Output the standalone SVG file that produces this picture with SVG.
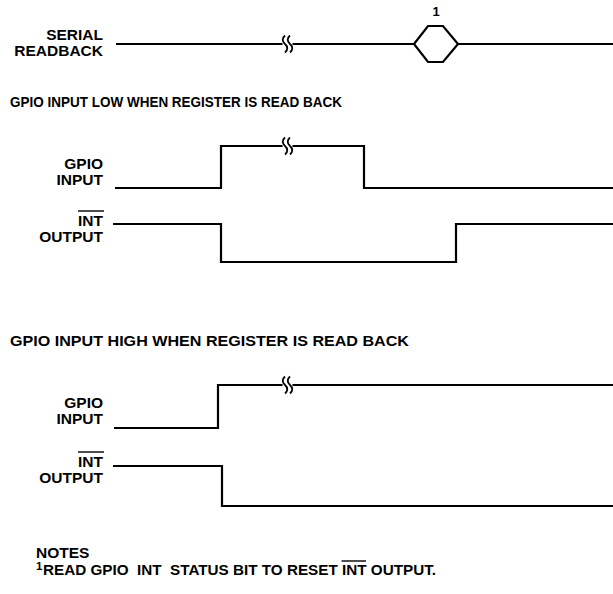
<svg xmlns="http://www.w3.org/2000/svg" width="613" height="594" viewBox="0 0 613 594">
<style>
.t{font-family:"Liberation Sans",Arial,sans-serif;font-weight:bold;font-size:15.5px;fill:#000}
.lbl{text-anchor:end}
.w{fill:none;stroke:#000;stroke-width:2.2;stroke-linejoin:miter;stroke-linecap:butt}
.brk{fill:none;stroke:#000;stroke-width:1.8}
.ov{stroke:#000;stroke-width:1.4}
</style>
<defs>
<g id="brk">
<path class="brk" d="M-2.5,-8.5 c-3,2.5 -3,6 0,8.5 c3,2.5 3,6 0,8.5"/>
<path class="brk" d="M2.5,-8.5 c-3,2.5 -3,6 0,8.5 c3,2.5 3,6 0,8.5"/>
</g>
</defs>
<rect width="613" height="594" fill="#fff"/>

<g id="serial-label">
<text class="t lbl" x="103" y="40">SERIAL</text>
<text class="t lbl" x="103" y="56">READBACK</text>
</g>
<g id="heading1"><text class="t" x="10" y="107" textLength="332" lengthAdjust="spacingAndGlyphs">GPIO INPUT LOW WHEN REGISTER IS READ BACK</text></g>
<g id="gpio1-label">
<text class="t lbl" x="103" y="169">GPIO</text>
<text class="t lbl" x="103" y="185">INPUT</text>
</g>
<g id="int1-label">
<text class="t lbl" x="103" y="226">INT</text>
<line class="ov" x1="78" y1="211" x2="104" y2="211"/>
<text class="t lbl" x="103" y="242">OUTPUT</text>
</g>
<g id="heading2"><text class="t" x="10" y="346" textLength="399" lengthAdjust="spacingAndGlyphs">GPIO INPUT HIGH WHEN REGISTER IS READ BACK</text></g>
<g id="gpio2-label">
<text class="t lbl" x="103" y="408">GPIO</text>
<text class="t lbl" x="103" y="424">INPUT</text>
</g>
<g id="int2-label">
<text class="t lbl" x="103" y="467">INT</text>
<line class="ov" x1="78" y1="452" x2="104" y2="452"/>
<text class="t lbl" x="103" y="483">OUTPUT</text>
</g>
<g id="marker1">
<polygon class="w" fill="#fff" points="414,44 428,26 443,26 458,44 443,62 428,62"/>
<text class="t" x="436" y="16" text-anchor="middle" style="font-size:13px">1</text>
</g>
<g id="notes">
<text class="t" x="36" y="558">NOTES</text>
<text class="t" x="36" y="570" style="font-size:11.5px">1</text>
<text class="t" x="43" y="575" xml:space="preserve" textLength="393" lengthAdjust="spacingAndGlyphs">READ GPIO  INT  STATUS BIT TO RESET INT OUTPUT.</text>
<line class="ov" x1="341.5" y1="561" x2="366" y2="561"/>
</g>

<g id="connectors">
<path class="w" d="M116,44 H282.5 M292.5,44 H414 M458,44 H613"/>
<use href="#brk" x="287.5" y="44"/>
<path class="w" d="M115,188 H221 V146 H282.5 M292.5,146 H364 V188 H613"/>
<use href="#brk" x="287.5" y="146"/>
<path class="w" d="M113,224 H221 V262 H456 V224 H613"/>
<path class="w" d="M114,428 H218 V385 H282.5 M292.5,385 H613"/>
<use href="#brk" x="287.5" y="385"/>
<path class="w" d="M113,466 H222 V506 H613"/>
</g>
</svg>
